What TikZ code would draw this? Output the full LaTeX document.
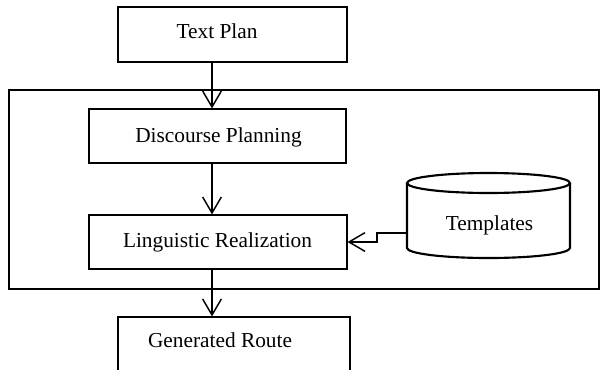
\documentclass[tikz,border=0pt]{standalone}
\usepackage{fontspec}
\setmainfont{Liberation Serif}
\usetikzlibrary{arrows.meta}
\begin{document}
\begin{tikzpicture}[x=0.75pt, y=-0.75pt,
  stagebox/.style={draw, line width=0.8pt, minimum width=#1, inner sep=0pt},
  lbl/.style={font=\fontsize{16}{19}\selectfont, anchor=base, inner sep=0pt},
  flow/.style={line width=1.1pt, -{Straight Barb[length=12pt, width=14pt, line width=1.1pt]}},
  frame/.style={draw, line width=1.6pt},
  drum/.style={line width=1.6pt}]
\clip (0,0) rectangle (600,369);

% outer module frame
\draw[frame] (9,90) rectangle (599,289);

% stage boxes
\node[draw, line width=0.8pt, minimum width=229*0.75pt, minimum height=55*0.75pt, inner sep=0pt] (tp) at (232.5,34.5) {};
\node[draw, line width=0.8pt, minimum width=257*0.75pt, minimum height=54*0.75pt, inner sep=0pt] (dp) at (217.5,136) {};
\node[draw, line width=0.8pt, minimum width=258*0.75pt, minimum height=54*0.75pt, inner sep=0pt] (lr) at (218,242) {};
\node[draw, line width=0.8pt, minimum width=232*0.75pt, minimum height=54*0.75pt, inner sep=0pt] (gr) at (234,344) {};

% labels
\node[lbl] (tpt) at (217,38) {Text Plan};
\node[lbl] (dpt) at (218.5,142) {Discourse Planning};
\node[lbl] (lrt) at (217.5,247) {Linguistic Realization};
\node[lbl] (grt) at (220,347) {Generated Route};

% template store (drum)
\draw[drum] (488.5,183) ellipse [x radius=61.1pt, y radius=7.5pt];
\draw[drum] (407,183) -- (407,248)
  arc [start angle=180, end angle=360, x radius=61.1pt, y radius=7.5pt]
  -- (570,183);
\node[lbl] (tmt) at (489.5,230) {Templates};
\coordinate (tmw) at (407,233);
\coordinate (stp) at (377,0);

% vertical flow
\coordinate (ax) at (212,0);
\draw[flow] (tp.south -| ax) -- (dp.north -| ax);
\draw[flow] (dp.south -| ax) -- (lr.north -| ax);
\draw[flow] (lr.south -| ax) -- (gr.north -| ax);

% templates feed
\draw[flow] (tmw) -- (tmw -| stp) -- (lr.east -| stp) -- (lr.east);
\end{tikzpicture}
\end{document}
